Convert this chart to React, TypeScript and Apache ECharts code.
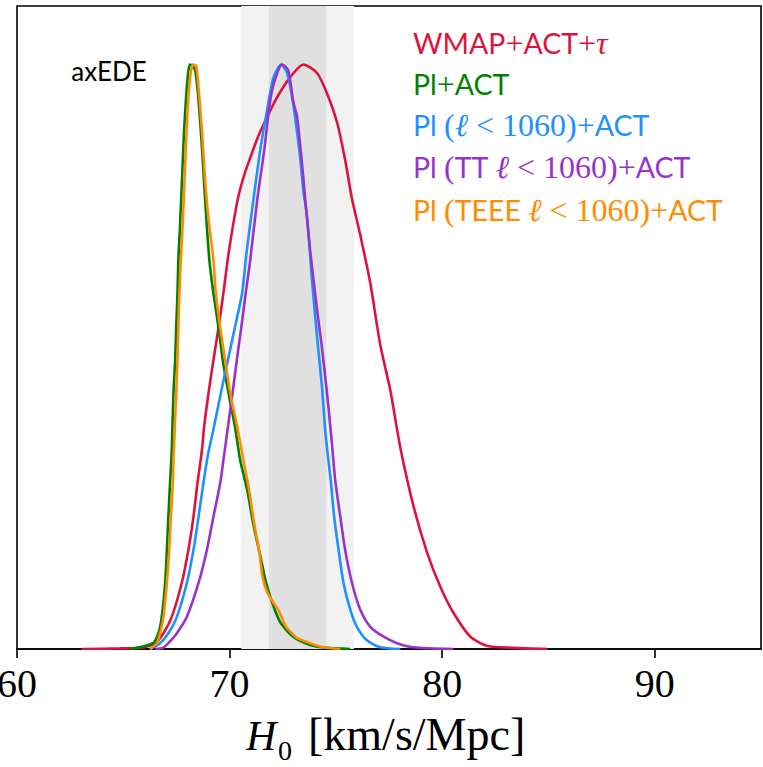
import React, { useEffect, useRef } from "react";
import * as echarts from "echarts";

// H0 posterior curves (x: H0 [km/s/Mpc], y: normalised probability)
const wmapActTau: [number, number][] = [
  [63.06, 0], [64.85, 0.001], [65.79, 0.002], [66.5, 0.01], [66.89, 0.027], [67.28, 0.055],
  [67.75, 0.113], [68.06, 0.169], [68.3, 0.226], [68.49, 0.284], [68.7, 0.34], [68.8, 0.379],
  [69.01, 0.438], [69.24, 0.494], [69.48, 0.55], [69.71, 0.609], [69.92, 0.668], [70.14, 0.72],
  [70.4, 0.772], [70.68, 0.81], [70.97, 0.84], [71.27, 0.87], [71.58, 0.896], [72.24, 0.944],
  [72.85, 0.978], [73.47, 1.0], [74.12, 0.985], [74.59, 0.95], [75.07, 0.899], [75.44, 0.836],
  [75.77, 0.768], [76.15, 0.708], [76.62, 0.626], [77.09, 0.52], [77.56, 0.443], [78.03, 0.345],
  [78.64, 0.246], [79.3, 0.164], [79.92, 0.106], [80.53, 0.062], [81.33, 0.021], [82.13, 0.005],
  [83.35, 0.002], [84.95, 0],
];

const plAct: [number, number][] = [
  [65.32, 0], [66.4, 0.01], [66.65, 0.027], [66.81, 0.055], [66.97, 0.113], [67.05, 0.169],
  [67.12, 0.226], [67.2, 0.284], [67.28, 0.34], [67.36, 0.438], [67.44, 0.494], [67.49, 0.55],
  [67.55, 0.609], [67.59, 0.665], [67.67, 0.725], [67.77, 0.81], [67.86, 0.887], [67.96, 0.947],
  [68.05, 0.986], [68.14, 1.0], [68.24, 0.998], [68.38, 0.99], [68.52, 0.947], [68.71, 0.853],
  [68.85, 0.768], [69.05, 0.665], [69.24, 0.609], [69.48, 0.55], [69.68, 0.494], [69.95, 0.438],
  [70.26, 0.379], [70.5, 0.323], [70.83, 0.272], [71.11, 0.215], [71.44, 0.16], [71.72, 0.113],
  [72.01, 0.079], [72.38, 0.046], [72.99, 0.021], [73.79, 0.007], [74.59, 0.002], [75.68, 0],
];

const plLowEllAct: [number, number][] = [
  [66.26, 0], [66.73, 0.01], [67.12, 0.027], [67.52, 0.055], [67.99, 0.113], [68.3, 0.169],
  [68.54, 0.226], [68.77, 0.284], [68.98, 0.332], [69.26, 0.379], [69.59, 0.438], [69.92, 0.494],
  [70.25, 0.55], [70.59, 0.609], [70.81, 0.682], [71.12, 0.768], [71.44, 0.853], [71.76, 0.921],
  [72.07, 0.978], [72.43, 1.0], [72.71, 0.985], [72.99, 0.933], [73.32, 0.841], [73.47, 0.785],
  [73.65, 0.738], [73.89, 0.626], [74.12, 0.532], [74.34, 0.451], [74.5, 0.374], [74.62, 0.332],
  [74.77, 0.284], [74.92, 0.226], [75.13, 0.169], [75.36, 0.113], [75.68, 0.067], [75.99, 0.038],
  [76.46, 0.015], [77.09, 0.003], [78.03, 0],
];

const plTTLowEllAct: [number, number][] = [
  [66.5, 0], [66.87, 0.002], [67.12, 0.01], [67.52, 0.027], [67.99, 0.055], [68.54, 0.113],
  [68.93, 0.169], [69.24, 0.226], [69.56, 0.284], [69.71, 0.323], [69.92, 0.379], [70.14, 0.438],
  [70.34, 0.494], [70.55, 0.55], [70.76, 0.609], [70.97, 0.665], [71.3, 0.768], [71.63, 0.853],
  [71.91, 0.938], [72.15, 0.976], [72.48, 1.0], [72.76, 0.99], [72.99, 0.938], [73.18, 0.909],
  [73.47, 0.807], [73.56, 0.768], [73.79, 0.682], [74.12, 0.579], [74.36, 0.511], [74.57, 0.443],
  [74.78, 0.366], [74.97, 0.289], [75.21, 0.226], [75.44, 0.169], [75.76, 0.113], [76.15, 0.067],
  [76.62, 0.038], [77.25, 0.021], [77.88, 0.01], [78.64, 0.003], [80.53, 0],
];

const plTEEELowEllAct: [number, number][] = [
  [66.26, 0], [66.58, 0.01], [66.73, 0.027], [66.89, 0.055], [67.05, 0.113], [67.16, 0.169],
  [67.24, 0.226], [67.33, 0.284], [67.37, 0.332], [67.49, 0.438], [67.55, 0.494], [67.59, 0.55],
  [67.64, 0.609], [67.71, 0.665], [67.79, 0.725], [67.89, 0.81], [67.98, 0.887], [68.07, 0.947],
  [68.17, 0.986], [68.29, 1.0], [68.43, 0.997], [68.57, 0.947], [68.71, 0.882], [68.85, 0.802],
  [68.99, 0.742], [69.24, 0.665], [69.35, 0.609], [69.56, 0.55], [69.79, 0.494], [70.03, 0.438],
  [70.37, 0.379], [70.65, 0.323], [70.92, 0.272], [71.13, 0.221], [71.4, 0.165], [71.55, 0.123],
  [71.76, 0.098], [72.05, 0.08], [72.32, 0.065], [72.62, 0.04], [72.85, 0.03], [73.17, 0.019],
  [73.79, 0.01], [74.42, 0.003], [75.21, 0],
];

const seriesNames = [
  "WMAP+ACT+τ",
  "Pl+ACT",
  "Pl (ℓ < 1060)+ACT",
  "Pl (TT ℓ < 1060)+ACT",
  "Pl (TEEE ℓ < 1060)+ACT",
];
const legendRich = [
  "{s|WMAP}{m|+}{s|ACT}{m|+}{mi|τ}",
  "{s|Pl}{m|+}{s|ACT}",
  "{s|Pl }{m|(}{mi|ℓ}{m| < 1060)+}{s|ACT}",
  "{s|Pl }{m|(}{s|TT }{mi|ℓ}{m| < 1060)+}{s|ACT}",
  "{s|Pl }{m|(}{s|TEEE }{mi|ℓ}{m| < 1060)+}{s|ACT}",
];
const seriesColors = ["#DC143C", "#008000", "#1E90FF", "#9932CC", "#FF8C00"];
const seriesData = [wmapActTau, plAct, plLowEllAct, plTTLowEllAct, plTEEELowEllAct];

// SH0ES bands: 2 sigma (light) and 1 sigma (dark)
const bandOuter: [number, number] = [70.55, 75.85];
const bandInner: [number, number] = [71.85, 74.55];

const xTicks = { min: 60, max: 95, interval: 10 };
const modelLabel = "axEDE";

export default function App() {
  const ref = useRef<HTMLDivElement>(null);
  useEffect(() => {
    if (!ref.current) return;
    const chart = echarts.init(ref.current, undefined, { renderer: "svg" });
    const serif = "'Liberation Serif', 'DejaVu Serif', serif";
    const sans = "Lato, 'Open Sans', sans-serif";
    const rich = {
      s: { fontFamily: sans, fontSize: 28.5 },
      m: { fontFamily: serif, fontSize: 32 },
      mi: { fontFamily: serif, fontSize: 32, fontStyle: "italic" },
    };
    const legendY = [43, 84, 125, 167, 210];
    const option: any = {
      animation: false,
      grid: {
        left: 17,
        right: 2,
        top: 6,
        bottom: 118,
        show: true,
        borderColor: "#000",
        borderWidth: 1.6,
        backgroundColor: "transparent",
        containLabel: false,
        outerBoundsMode: "none",
      },
      xAxis: {
        type: "value",
        min: xTicks.min,
        max: xTicks.max,
        interval: xTicks.interval,
        axisLine: { show: true, lineStyle: { color: "#000", width: 1.6 } },
        axisTick: { show: true, length: 9, lineStyle: { color: "#000", width: 1.6 } },
        splitLine: { show: false },
        axisLabel: {
          fontFamily: serif,
          fontSize: 40,
          color: "#000",
          margin: 14,
          showMaxLabel: false,
        },
      },
      yAxis: { type: "value", min: 0, max: 1.1, show: false },
      series: [
        {
          type: "line",
          data: [],
          z: 1,
          silent: true,
          markArea: {
            silent: true,
            data: [
              [{ xAxis: bandOuter[0], itemStyle: { color: "#f2f2f2" } }, { xAxis: bandOuter[1] }],
              [{ xAxis: bandInner[0], itemStyle: { color: "#e0e0e0" } }, { xAxis: bandInner[1] }],
            ],
          },
        },
        ...seriesData.map((d, i) => ({
          name: seriesNames[i],
          type: "line",
          data: d,
          z: 3 + i,
          showSymbol: false,
          smooth: 0.25,
          lineStyle: { color: seriesColors[i], width: 2.6 },
          itemStyle: { color: seriesColors[i] },
        })),
      ],
      graphic: [
        ...legendRich.map((t, i) => ({
          type: "text",
          x: 413,
          y: legendY[i],
          z: 100,
          style: {
            text: t,
            rich,
            fill: seriesColors[i],
            verticalAlign: "middle",
          },
        })),
        {
          type: "text",
          x: 109,
          y: 71,
          z: 100,
          style: {
            text: modelLabel,
            fontFamily: sans,
            fontSize: 26,
            fill: "#000",
            align: "center",
            verticalAlign: "middle",
          },
        },
        {
          type: "text",
          x: 246,
          y: 757,
          z: 100,
          style: {
            text: "H",
            fontFamily: serif,
            fontStyle: "italic",
            fontSize: 42,
            fill: "#000",
            verticalAlign: "bottom",
          },
        },
        {
          type: "text",
          x: 278,
          y: 764,
          z: 100,
          style: {
            text: "0",
            fontFamily: serif,
            fontSize: 28,
            fill: "#000",
            verticalAlign: "bottom",
          },
        },
        {
          type: "text",
          x: 308,
          y: 757,
          z: 100,
          style: {
            text: "[km/s/Mpc]",
            fontFamily: serif,
            fontSize: 46,
            fill: "#000",
            verticalAlign: "bottom",
          },
        },
      ],
    };
    chart.setOption(option);
    return () => chart.dispose();
  }, []);
  return (
    <div
      ref={ref}
      style={{ position: "fixed", left: 0, top: 0, width: 763, height: 767, background: "#fff" }}
    />
  );
}
